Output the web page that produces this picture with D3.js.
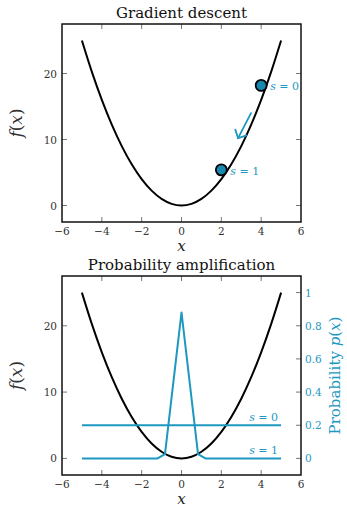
<!DOCTYPE html>
<html>
<head>
<meta charset="utf-8">
<script src="https://cdn.jsdelivr.net/npm/d3@7"></script>
<style>
  html, body { margin: 0; padding: 0; background: #fff; }
  svg { display: block; }
  text { font-family: "DejaVu Serif", "Liberation Serif", serif; }
</style>
</head>
<body>
<svg id="chart" width="347" height="507"></svg>
<script>
// Objective f(x) = x^2 sampled on a half-unit grid
const xs = [-5, -4.5, -4, -3.5, -3, -2.5, -2, -1.5, -1, -0.5, 0, 0.5, 1, 1.5, 2, 2.5, 3, 3.5, 4, 4.5, 5];
const fx = [25, 20.25, 16, 12.25, 9, 6.25, 4, 2.25, 1, 0.25, 0, 0.25, 1, 2.25, 4, 6.25, 9, 12.25, 16, 20.25, 25];

// Gradient-descent iterates
const stepLabels = ["s = 0", "s = 1"];
const stepX = [4, 2];
const stepF = [18.2, 5.4];

// Probability distributions over x
const probX0 = [-5, 5];
const probP0 = [0.2, 0.2];
const probX1 = [-5, -1.2, -0.83, 0, 0.83, 1.2, 5];
const probP1 = [0, 0, 0.026, 0.88, 0.026, 0, 0];

// Axis ticks
const xTicks = [-6, -4, -2, 0, 2, 4, 6];
const fTicks = [0, 10, 20];
const pTicks = [0, 0.2, 0.4, 0.6, 0.8, 1];

const blue = "#1c98c1";
const svg = d3.select("#chart");
const fmtTick = d => (d < 0 ? "\u2212" + Math.abs(d) : String(d));

const L = 62, R = 301;
const x = d3.scaleLinear().domain([-6, 6]).range([L, R]);

function panel(top, bottom, title) {
  const y = d3.scaleLinear().domain([-2.5, 27.5]).range([bottom, top]);
  const g = svg.append("g");

  // inward ticks on all four sides
  const tk = g.append("g").attr("stroke", "#777").attr("stroke-width", 1);
  xTicks.slice(1, -1).forEach(t => {
    tk.append("line").attr("x1", x(t)).attr("x2", x(t)).attr("y1", bottom).attr("y2", bottom - 5);
    tk.append("line").attr("x1", x(t)).attr("x2", x(t)).attr("y1", top).attr("y2", top + 5);
  });

  // x tick labels
  g.append("g").selectAll("text").data(xTicks).join("text")
    .attr("x", d => x(d)).attr("y", bottom + 12.5)
    .attr("text-anchor", "middle").attr("font-size", 10.5).attr("fill", "#333")
    .text(fmtTick);

  // left f(x) axis labels and ticks
  fTicks.forEach(t => {
    tk.append("line").attr("x1", L).attr("x2", L + 5).attr("y1", y(t)).attr("y2", y(t));
  });
  g.append("g").selectAll("text").data(fTicks).join("text")
    .attr("x", L - 5).attr("y", d => y(d) + 4)
    .attr("text-anchor", "end").attr("font-size", 10.5).attr("fill", "#333")
    .text(d => d);

  // axis titles
  g.append("text").attr("x", (L + R) / 2).attr("y", bottom + 28.5)
    .attr("text-anchor", "middle").attr("font-size", 15).attr("font-style", "italic")
    .attr("fill", "#222").text("x");
  g.append("text")
    .attr("transform", `translate(22,${(top + bottom) / 2}) rotate(-90)`)
    .attr("text-anchor", "middle").attr("font-size", 17).attr("fill", "#333")
    .html('<tspan font-style="italic">f</tspan>(<tspan font-style="italic">x</tspan>)');

  g.append("text").attr("x", (L + R) / 2).attr("y", top - 6)
    .attr("text-anchor", "middle").attr("font-size", 15).attr("fill", "#111")
    .text(title);

  return { g, y, tk };
}

function drawCurve(p) {
  const line = d3.line().x((d, i) => x(xs[i])).y(d => p.y(d)).curve(d3.curveCatmullRom);
  p.g.append("path").datum(fx).attr("d", line)
    .attr("fill", "none").attr("stroke", "#000").attr("stroke-width", 2);
}

function frame(p, top, bottom) {
  p.g.append("rect").attr("x", L).attr("y", top).attr("width", R - L).attr("height", bottom - top)
    .attr("fill", "none").attr("stroke", "#111").attr("stroke-width", 1.5);
}

// ---- Top panel: gradient descent ----
const T1 = 24, B1 = 222;
const p1 = panel(T1, B1, "Gradient descent");
fTicks.forEach(t => {
  p1.tk.append("line").attr("x1", R).attr("x2", R - 5).attr("y1", p1.y(t)).attr("y2", p1.y(t));
});
drawCurve(p1);

// step arrow between the two iterates
const a0 = [x(3.49), p1.y(14.0)], a1 = [x(2.84), p1.y(10.2)];
const ang = Math.atan2(a1[1] - a0[1], a1[0] - a0[0]);
const head = 9, spread = Math.PI / 4;
const arrow = p1.g.append("g").attr("stroke", blue).attr("stroke-width", 1.8).attr("fill", "none")
  .attr("stroke-linecap", "round");
arrow.append("line").attr("x1", a0[0]).attr("y1", a0[1]).attr("x2", a1[0]).attr("y2", a1[1]);
arrow.append("path").attr("d",
  `M${a1[0] - head * Math.cos(ang - spread)},${a1[1] - head * Math.sin(ang - spread)}` +
  `L${a1[0]},${a1[1]}` +
  `L${a1[0] - head * Math.cos(ang + spread)},${a1[1] - head * Math.sin(ang + spread)}`);

p1.g.append("g").selectAll("circle").data(stepX).join("circle")
  .attr("cx", d => x(d)).attr("cy", (d, i) => p1.y(stepF[i])).attr("r", 5.5)
  .attr("fill", "#1789b0").attr("stroke", "#000").attr("stroke-width", 1.8);

p1.g.append("g").selectAll("text").data(stepLabels).join("text")
  .attr("x", (d, i) => x(stepX[i]) + 9).attr("y", (d, i) => p1.y(stepF[i]) + 5)
  .attr("font-size", 11).attr("fill", blue)
  .html(d => '<tspan font-style="italic">s</tspan>' + d.slice(1));
frame(p1, T1, B1);

// ---- Bottom panel: probability amplification ----
const T2 = 276, B2 = 475;
const p2 = panel(T2, B2, "Probability amplification");
const yp = d3.scaleLinear().domain([-0.1, 1.1]).range([B2, T2]);
pTicks.forEach(t => {
  p2.tk.append("line").attr("x1", R).attr("x2", R - 5).attr("y1", yp(t)).attr("y2", yp(t));
});
p2.g.append("g").selectAll("text").data(pTicks).join("text")
  .attr("x", R + 4).attr("y", d => yp(d) + 4)
  .attr("font-size", 10.5).attr("fill", blue)
  .text(d => d);
p2.g.append("text")
  .attr("transform", `translate(340,${(T2 + B2) / 2}) rotate(-90)`)
  .attr("text-anchor", "middle").attr("font-size", 15).attr("fill", blue)
  .html('Probability <tspan font-style="italic">p</tspan>(<tspan font-style="italic">x</tspan>)');

drawCurve(p2);

const pline = xsArr => d3.line().x((d, i) => x(xsArr[i])).y(d => yp(d));
p2.g.append("path").datum(probP0).attr("d", pline(probX0))
  .attr("fill", "none").attr("stroke", blue).attr("stroke-width", 2);
p2.g.append("path").datum(probP1).attr("d", pline(probX1))
  .attr("fill", "none").attr("stroke", blue).attr("stroke-width", 2).attr("stroke-linejoin", "round");

p2.g.append("g").selectAll("text").data(stepLabels).join("text")
  .attr("x", x(4.85)).attr("y", (d, i) => yp([probP0[0], probP1[0]][i]) - 4)
  .attr("text-anchor", "end").attr("font-size", 11).attr("fill", blue)
  .html(d => '<tspan font-style="italic">s</tspan>' + d.slice(1));
frame(p2, T2, B2);
</script>
</body>
</html>
